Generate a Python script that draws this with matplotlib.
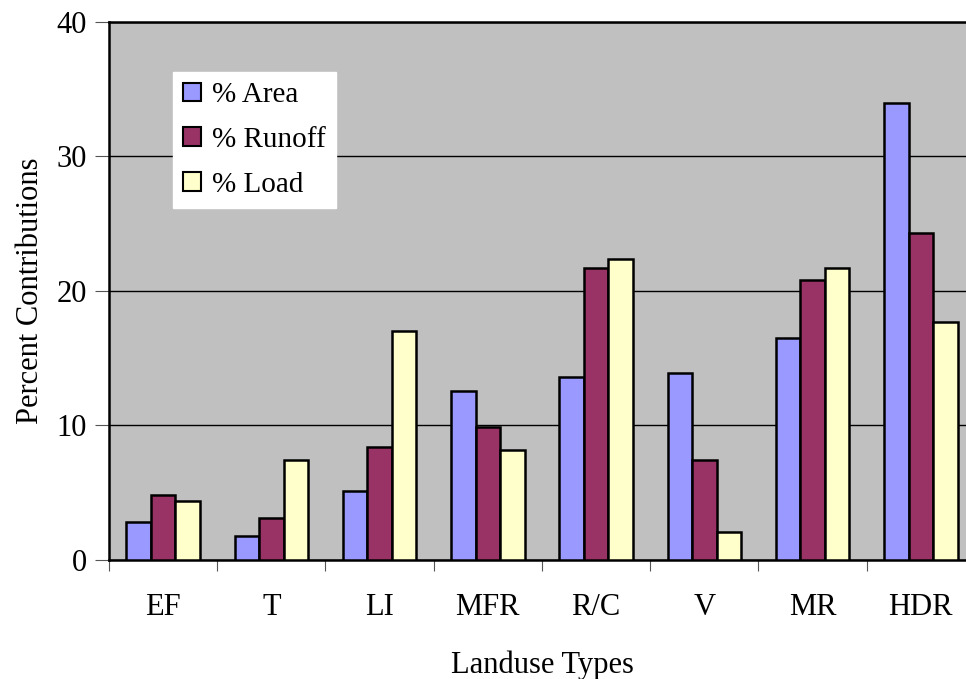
import numpy as np
import matplotlib.pyplot as plt
from matplotlib.patches import Patch

plt.rcParams['font.family'] = ['Liberation Serif', 'DejaVu Serif']

landuse = ['EF', 'T', 'LI', 'MFR', 'R/C', 'V', 'MR', 'HDR']
area = [2.8, 1.8, 5.1, 12.6, 13.6, 13.9, 16.5, 34.0]
runoff = [4.8, 3.1, 8.4, 9.9, 21.7, 7.4, 20.8, 24.3]
load = [4.4, 7.4, 17.0, 8.2, 22.4, 2.1, 21.7, 17.7]

series = ['% Area', '% Runoff', '% Load']
colors = ['#9999FF', '#993366', '#FFFFCC']

fig = plt.figure(figsize=(9.66, 6.79), dpi=100)
ax = fig.add_axes([0.1128, 0.1753, 0.8965, 0.7923])
ax.set_facecolor('#C0C0C0')

x = np.arange(len(landuse)) + 0.5
w = 0.226
for i, (vals, c) in enumerate(zip([area, runoff, load], colors)):
    ax.bar(x + (i - 1) * w, vals, width=w, color=c, edgecolor='black',
           linewidth=1.8, zorder=3)

ax.set_xlim(0, len(landuse))
ax.set_ylim(0, 40)
ax.set_yticks([0, 10, 20, 30, 40])
ax.yaxis.grid(True, color='black', linewidth=1.0, zorder=1)

# ticks at category boundaries, labels in the middle
ax.set_xticks(np.arange(len(landuse) + 1))
ax.set_xticklabels([])
ax.set_xticks(x, minor=True)
ax.set_xticklabels(landuse, minor=True, fontsize=22)
ax.tick_params(axis='x', which='minor', length=0, pad=24)
ax.tick_params(axis='x', which='major', length=8, color='#555555', direction='out')
ax.tick_params(axis='y', length=10, color='#555555', labelsize=22, pad=6)

for s in ['left', 'bottom', 'top']:
    ax.spines[s].set_linewidth(1.8)
ax.spines['right'].set_visible(False)

ax.set_xlabel('Landuse Types', fontsize=22, labelpad=20)
ax.set_ylabel('Percent Contributions', fontsize=22, labelpad=8)

handles = [Patch(facecolor=c, edgecolor='black', linewidth=1.5) for c in colors]
leg = ax.legend(handles, series, loc='upper left', bbox_to_anchor=(0.074, 0.907),
                fontsize=21, frameon=True, fancybox=False, handlelength=0.6,
                handleheight=0.6, handletextpad=0.4, labelspacing=0.64,
                borderpad=0.35, borderaxespad=0)
leg.get_frame().set_edgecolor('white')
leg.get_frame().set_facecolor('white')
leg.get_frame().set_alpha(1)

fig.savefig('out.png', dpi=100)
